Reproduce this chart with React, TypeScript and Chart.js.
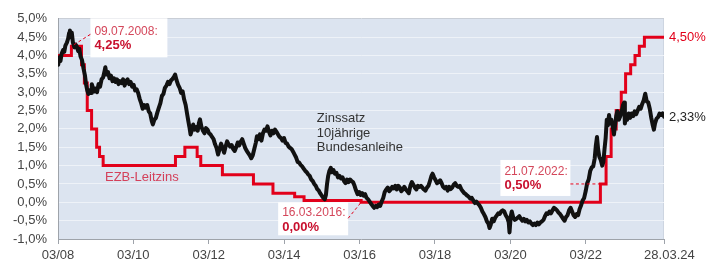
import React, { useEffect, useRef } from 'react';
import { Chart, registerables } from 'chart.js';

Chart.register(...registerables);

// 10-year Bund yield (decimal year, percent)
const bundYears = [
  2008.17, 2008.20, 2008.23, 2008.26, 2008.30, 2008.33, 2008.36, 2008.40, 2008.43, 2008.46, 2008.48, 2008.50, 2008.53, 2008.56, 2008.60, 2008.63, 2008.66, 2008.70, 2008.73, 2008.76, 2008.80, 2008.84, 2008.88, 2008.91, 2008.94, 2008.97,
  2009.01, 2009.04, 2009.06, 2009.10, 2009.13, 2009.16, 2009.20, 2009.24, 2009.28, 2009.32, 2009.36, 2009.40, 2009.42, 2009.45, 2009.49, 2009.53, 2009.57, 2009.61, 2009.65, 2009.69, 2009.73, 2009.77, 2009.81, 2009.85, 2009.89, 2009.93, 2009.97,
  2010.01, 2010.05, 2010.09, 2010.13, 2010.17, 2010.21, 2010.25, 2010.29, 2010.33, 2010.37, 2010.41, 2010.45, 2010.49, 2010.53, 2010.57, 2010.61, 2010.65, 2010.68, 2010.72, 2010.76, 2010.80, 2010.84, 2010.88, 2010.92, 2010.96,
  2011.00, 2011.04, 2011.08, 2011.12, 2011.16, 2011.20, 2011.24, 2011.27, 2011.31, 2011.35, 2011.39, 2011.43, 2011.47, 2011.51, 2011.55, 2011.59, 2011.62, 2011.65, 2011.68, 2011.71, 2011.75, 2011.79, 2011.83, 2011.87, 2011.90, 2011.93, 2011.97,
  2012.01, 2012.05, 2012.09, 2012.13, 2012.17, 2012.21, 2012.25, 2012.29, 2012.33, 2012.37, 2012.41, 2012.45, 2012.49, 2012.53, 2012.57, 2012.61, 2012.65, 2012.69, 2012.73, 2012.77, 2012.81, 2012.85, 2012.89, 2012.93, 2012.97,
  2013.01, 2013.05, 2013.09, 2013.13, 2013.17, 2013.21, 2013.25, 2013.29, 2013.33, 2013.37, 2013.41, 2013.44, 2013.48, 2013.52, 2013.56, 2013.60, 2013.64, 2013.68, 2013.72, 2013.76, 2013.80, 2013.84, 2013.88, 2013.92, 2013.96,
  2014.00, 2014.04, 2014.08, 2014.12, 2014.16, 2014.20, 2014.24, 2014.28, 2014.32, 2014.36, 2014.40, 2014.44, 2014.48, 2014.52, 2014.56, 2014.60, 2014.64, 2014.68, 2014.72, 2014.76, 2014.80, 2014.84, 2014.88, 2014.92, 2014.96,
  2015.00, 2015.04, 2015.08, 2015.12, 2015.16, 2015.20, 2015.24, 2015.27, 2015.30, 2015.33, 2015.36, 2015.40, 2015.43, 2015.47, 2015.51, 2015.55, 2015.59, 2015.63, 2015.67, 2015.71, 2015.75, 2015.79, 2015.83, 2015.87, 2015.91, 2015.95, 2015.99,
  2016.03, 2016.07, 2016.11, 2016.15, 2016.19, 2016.23, 2016.27, 2016.31, 2016.35, 2016.39, 2016.43, 2016.47, 2016.51, 2016.55, 2016.59, 2016.63, 2016.67, 2016.71, 2016.75, 2016.79, 2016.83, 2016.87, 2016.91, 2016.95, 2016.99,
  2017.03, 2017.07, 2017.11, 2017.15, 2017.19, 2017.23, 2017.27, 2017.31, 2017.35, 2017.39, 2017.43, 2017.47, 2017.51, 2017.55, 2017.59, 2017.63, 2017.67, 2017.71, 2017.75, 2017.79, 2017.83, 2017.87, 2017.91, 2017.95, 2017.99,
  2018.03, 2018.07, 2018.10, 2018.14, 2018.18, 2018.22, 2018.26, 2018.30, 2018.34, 2018.38, 2018.42, 2018.46, 2018.50, 2018.54, 2018.58, 2018.62, 2018.66, 2018.70, 2018.74, 2018.78, 2018.82, 2018.86, 2018.90, 2018.94, 2018.98,
  2019.02, 2019.06, 2019.10, 2019.14, 2019.18, 2019.22, 2019.26, 2019.30, 2019.34, 2019.38, 2019.42, 2019.46, 2019.50, 2019.54, 2019.58, 2019.61, 2019.64, 2019.68, 2019.72, 2019.76, 2019.80, 2019.84, 2019.88, 2019.92, 2019.96,
  2020.00, 2020.04, 2020.08, 2020.12, 2020.14, 2020.17, 2020.20, 2020.24, 2020.28, 2020.32, 2020.36, 2020.40, 2020.44, 2020.48, 2020.52, 2020.56, 2020.60, 2020.64, 2020.68, 2020.72, 2020.76, 2020.80, 2020.84, 2020.88, 2020.92, 2020.96,
  2021.00, 2021.04, 2021.08, 2021.12, 2021.16, 2021.20, 2021.24, 2021.28, 2021.32, 2021.36, 2021.40, 2021.44, 2021.48, 2021.52, 2021.56, 2021.60, 2021.64, 2021.68, 2021.72, 2021.76, 2021.80, 2021.84, 2021.88, 2021.92, 2021.96,
  2022.00, 2022.04, 2022.08, 2022.12, 2022.16, 2022.20, 2022.24, 2022.28, 2022.32, 2022.36, 2022.40, 2022.43, 2022.46, 2022.49, 2022.52, 2022.56, 2022.60, 2022.63, 2022.66, 2022.69, 2022.72, 2022.75, 2022.78, 2022.81, 2022.84, 2022.88, 2022.91, 2022.94, 2022.97,
  2023.00, 2023.04, 2023.08, 2023.12, 2023.15, 2023.18, 2023.20, 2023.23, 2023.26, 2023.30, 2023.34, 2023.38, 2023.42, 2023.46, 2023.50, 2023.54, 2023.58, 2023.62, 2023.66, 2023.70, 2023.74, 2023.78, 2023.82, 2023.86, 2023.90, 2023.94, 2023.97,
  2024.00, 2024.04, 2024.08, 2024.12, 2024.16, 2024.20, 2024.24,
];

const bundYields = [
  3.75, 3.95, 3.85, 4.05, 4.15, 4.10, 4.27, 4.35, 4.45, 4.62, 4.68, 4.50, 4.62, 4.35, 4.22, 4.30, 4.25, 4.12, 4.18, 3.98, 3.88, 3.65, 3.45, 3.20, 3.05, 2.95,
  3.05, 2.98, 3.22, 3.10, 3.02, 3.10, 3.00, 3.22, 3.15, 3.35, 3.40, 3.58, 3.68, 3.48, 3.55, 3.38, 3.45, 3.30, 3.38, 3.28, 3.35, 3.22, 3.30, 3.25, 3.35, 3.18, 3.30,
  3.35, 3.22, 3.28, 3.15, 3.20, 3.05, 3.08, 2.98, 2.82, 2.70, 2.55, 2.65, 2.58, 2.65, 2.48, 2.42, 2.22, 2.12, 2.25, 2.30, 2.45, 2.58, 2.70, 2.90, 2.95,
  3.12, 3.18, 3.28, 3.22, 3.32, 3.36, 3.42, 3.48, 3.32, 3.20, 3.12, 2.98, 3.02, 2.80, 2.65, 2.40, 2.22, 2.05, 1.85, 1.95, 2.12, 1.98, 2.05, 1.95, 2.15, 2.26, 2.05,
  1.95, 1.88, 2.02, 1.98, 1.88, 1.85, 1.78, 1.72, 1.58, 1.48, 1.30, 1.45, 1.60, 1.48, 1.35, 1.52, 1.66, 1.58, 1.52, 1.56, 1.45, 1.40, 1.50, 1.63, 1.55,
  1.65, 1.72, 1.60, 1.48, 1.40, 1.34, 1.28, 1.20, 1.28, 1.45, 1.62, 1.80, 1.72, 1.85, 1.68, 1.88, 1.98, 1.95, 2.07, 1.92, 1.82, 1.95, 1.88, 1.98, 1.92,
  1.85, 1.78, 1.75, 1.68, 1.75, 1.62, 1.60, 1.52, 1.48, 1.45, 1.38, 1.30, 1.22, 1.10, 1.08, 1.02, 0.98, 0.92, 0.86, 0.82, 0.76, 0.72, 0.62, 0.58, 0.50,
  0.45, 0.36, 0.32, 0.24, 0.18, 0.12, 0.08, 0.20, 0.50, 0.72, 0.85, 0.94, 0.82, 0.88, 0.78, 0.80, 0.68, 0.72, 0.65, 0.68, 0.58, 0.52, 0.62, 0.55, 0.62, 0.58, 0.55,
  0.45, 0.32, 0.22, 0.28, 0.20, 0.25, 0.18, 0.22, 0.12, 0.08, 0.02, -0.04, -0.10, -0.15, -0.10, -0.13, -0.06, -0.10, 0.02, 0.12, 0.28, 0.35, 0.40, 0.30, 0.35,
  0.42, 0.38, 0.45, 0.35, 0.45, 0.40, 0.30, 0.35, 0.42, 0.35, 0.30, 0.25, 0.45, 0.55, 0.48, 0.40, 0.35, 0.45, 0.42, 0.45, 0.40, 0.35, 0.32, 0.40, 0.45,
  0.58, 0.72, 0.78, 0.68, 0.60, 0.52, 0.55, 0.60, 0.52, 0.42, 0.38, 0.42, 0.32, 0.42, 0.36, 0.40, 0.48, 0.52, 0.45, 0.42, 0.45, 0.36, 0.30, 0.25, 0.22,
  0.18, 0.15, 0.10, 0.12, 0.05, -0.02, 0.02, -0.03, -0.08, -0.15, -0.25, -0.32, -0.40, -0.52, -0.58, -0.70, -0.62, -0.45, -0.52, -0.42, -0.36, -0.30, -0.32, -0.25, -0.22,
  -0.25, -0.35, -0.42, -0.55, -0.82, -0.40, -0.25, -0.42, -0.48, -0.45, -0.42, -0.38, -0.45, -0.50, -0.45, -0.52, -0.48, -0.55, -0.52, -0.58, -0.62, -0.58, -0.62, -0.55, -0.60, -0.55,
  -0.52, -0.48, -0.38, -0.30, -0.32, -0.25, -0.30, -0.22, -0.15, -0.18, -0.22, -0.28, -0.32, -0.38, -0.45, -0.50, -0.40, -0.35, -0.22, -0.15, -0.25, -0.35, -0.40, -0.32, -0.35,
  -0.18, -0.08, 0.05, 0.12, 0.30, 0.52, 0.62, 0.85, 0.95, 0.98, 1.20, 1.55, 1.78, 1.45, 1.25, 1.15, 1.00, 1.10, 1.45, 1.75, 2.25, 2.10, 2.38, 2.15, 2.25, 2.05, 1.85, 2.10, 2.35,
  2.48, 2.25, 2.35, 2.50, 2.65, 2.72, 2.15, 2.35, 2.25, 2.42, 2.30, 2.42, 2.35, 2.48, 2.40, 2.50, 2.60, 2.55, 2.68, 2.78, 2.96, 2.75, 2.72, 2.55, 2.30, 2.10, 1.98,
  2.15, 2.28, 2.32, 2.42, 2.38, 2.42, 2.33,
];

// ECB main refinancing rate (change dates)
const ecbDates = [
  '01.03.2008', '09.07.2008', '15.10.2008', '12.11.2008', '10.12.2008', '21.01.2009', '11.03.2009', '08.04.2009', '13.05.2009',
  '13.04.2011', '13.07.2011', '09.11.2011', '14.12.2011', '11.07.2012', '08.05.2013', '13.11.2013', '11.06.2014', '10.09.2014',
  '16.03.2016', '21.07.2022', '14.09.2022', '02.11.2022', '21.12.2022', '08.02.2023', '22.03.2023', '10.05.2023', '21.06.2023',
  '02.08.2023', '20.09.2023', '28.03.2024',
];
const ecbRates = [
  4.0, 4.25, 3.75, 3.25, 2.5, 2.0, 1.5, 1.25, 1.0,
  1.25, 1.5, 1.25, 1.0, 0.75, 0.5, 0.25, 0.15, 0.05,
  0.0, 0.5, 1.25, 2.0, 2.5, 3.0, 3.5, 3.75, 4.0,
  4.25, 4.5, 4.5,
];

const xStart = '01.03.2008';
const xEnd = '28.03.2024';
const xTickDates = ['01.03.2008', '01.03.2010', '01.03.2012', '01.03.2014', '01.03.2016', '01.03.2018', '01.03.2020', '01.03.2022', '28.03.2024'];
const xTickLabels = ['03/08', '03/10', '03/12', '03/14', '03/16', '03/18', '03/20', '03/22', '   28.03.24'];
const yTicks = [-1, -0.5, 0, 0.5, 1, 1.5, 2, 2.5, 3, 3.5, 4, 4.5, 5];

const calloutDates = ['09.07.2008', '16.03.2016', '21.07.2022'];
const calloutValues = [4.25, 0.0, 0.5];
const calloutDateLabels = ['09.07.2008:', '16.03.2016:', '21.07.2022:'];
const calloutValueLabels = ['4,25%', '0,00%', '0,50%'];

const ecbLabel = 'EZB-Leitzins';
const bundLabel = ['Zinssatz', '10jährige', 'Bundesanleihe'];
const ecbEndLabel = '4,50%';
const bundEndLabel = '2,33%';

function toYear(d: string): number {
  const [dd, mm, yy] = d.split('.').map(Number);
  const start = Date.UTC(yy, 0, 1);
  const end = Date.UTC(yy + 1, 0, 1);
  return yy + (Date.UTC(yy, mm - 1, dd) - start) / (end - start);
}

const FONT = '"Liberation Sans", Arial, sans-serif';

export default function App() {
  const ref = useRef<HTMLCanvasElement | null>(null);

  useEffect(() => {
    if (!ref.current) return;

    const calloutLayout = [
      { dx: 19, dy: -28, w: 77, h: 39, l1: 13, l2: 27, side: 'left', cy: 16 },
      { dx: -83, dy: 0, w: 70, h: 33, l1: 10, l2: 25, side: 'right', cy: 16 },
      { dx: -100, dy: -24, w: 70, h: 36, l1: 12, l2: 25, side: 'right', cy: 24 },
    ];

    const decor = {
      id: 'decor',
      beforeDraw(chart: any) {
        const { ctx, chartArea: a } = chart;
        ctx.save();
        ctx.fillStyle = '#dce4f0';
        ctx.fillRect(a.left, a.top, a.right - a.left, a.bottom - a.top);
        ctx.strokeStyle = '#cdd5e1';
        ctx.lineWidth = 1;
        ctx.beginPath();
        ctx.moveTo(a.right - 0.5, a.top);
        ctx.lineTo(a.right - 0.5, a.bottom);
        ctx.stroke();
        ctx.restore();
      },
      afterDatasetsDraw(chart: any) {
        const { ctx, chartArea: a } = chart;
        const xs = chart.scales.x;
        const ys = chart.scales.y;
        ctx.save();
        ctx.textBaseline = 'middle';

        calloutDates.forEach((d, i) => {
          const L = calloutLayout[i];
          const px = xs.getPixelForValue(toYear(d));
          const py = ys.getPixelForValue(calloutValues[i]);
          const bx = px + L.dx;
          const by = py + L.dy;
          ctx.fillStyle = '#ffffff';
          ctx.fillRect(bx, by, L.w, L.h);
          ctx.strokeStyle = '#e2001a';
          ctx.lineWidth = 1;
          ctx.setLineDash([3, 2.5]);
          ctx.beginPath();
          if (L.side === 'left') {
            ctx.moveTo(bx, by + L.cy);
          } else {
            ctx.moveTo(bx + L.w, by + L.cy);
          }
          ctx.lineTo(px, py);
          ctx.stroke();
          ctx.setLineDash([]);
          ctx.textAlign = 'left';
          ctx.fillStyle = '#d4475b';
          ctx.font = `12px ${FONT}`;
          ctx.fillText(calloutDateLabels[i], bx + 4, by + L.l1);
          ctx.fillStyle = '#c8102e';
          ctx.font = `bold 13px ${FONT}`;
          ctx.fillText(calloutValueLabels[i], bx + 4, by + L.l2);
        });

        ctx.textAlign = 'left';
        ctx.font = `13px ${FONT}`;
        ctx.fillStyle = '#d4405a';
        ctx.fillText(ecbLabel, xs.getPixelForValue(2009.41), ys.getPixelForValue(0.69));

        ctx.fillStyle = '#333333';
        const bx0 = xs.getPixelForValue(2015.03);
        const by0 = ys.getPixelForValue(2.28);
        bundLabel.forEach((t, i) => ctx.fillText(t, bx0, by0 + i * 14.5));

        const lastE = ecbRates[ecbRates.length - 1];
        const lastB = bundYields[bundYields.length - 1];
        ctx.font = `13px ${FONT}`;
        ctx.fillStyle = '#e2001a';
        ctx.fillText(ecbEndLabel, a.right + 5, ys.getPixelForValue(lastE));
        ctx.fillStyle = '#222222';
        ctx.fillText(bundEndLabel, a.right + 5, ys.getPixelForValue(lastB) + 1);
        ctx.restore();
      },
    };

    const chart = new Chart(ref.current, {
      type: 'line',
      data: {
        datasets: [
          {
            label: 'Bund',
            data: bundYears.map((x, i) => ({ x, y: bundYields[i] })),
            borderColor: '#111111',
            borderWidth: 4,
            borderJoinStyle: 'round',
            borderCapStyle: 'round',
            pointRadius: 0,
            tension: 0,
          },
          {
            label: 'EZB',
            data: ecbDates.map((d, i) => ({ x: toYear(d), y: ecbRates[i] })),
            borderColor: '#e2001a',
            borderWidth: 3,
            stepped: true,
            pointRadius: 0,
            tension: 0,
          },
        ],
      },
      options: {
        animation: false,
        responsive: false,
        events: [],
        layout: { padding: { left: 0, top: 16, right: 54, bottom: 0 } },
        plugins: { legend: { display: false }, tooltip: { enabled: false } },
        scales: {
          x: {
            type: 'linear',
            min: toYear(xStart),
            max: toYear(xEnd),
            afterBuildTicks: (s: any) => {
              s.ticks = xTickDates.map((d) => ({ value: toYear(d) }));
            },
            afterFit: (s: any) => {
              s.height = 21;
            },
            grid: { drawOnChartArea: false, drawTicks: true, tickLength: 5, color: '#9ea3aa' },
            border: { display: true, color: '#9ea3aa', width: 1 },
            ticks: {
              autoSkip: false,
              maxRotation: 0,
              padding: 4,
              color: '#444444',
              font: { family: FONT, size: 13 },
              callback: (_v: any, i: number) => xTickLabels[i],
            },
          },
          y: {
            type: 'linear',
            min: -1,
            max: 5,
            afterBuildTicks: (s: any) => {
              s.ticks = yTicks.map((v) => ({ value: v }));
            },
            afterFit: (s: any) => {
              s.width = 58;
            },
            grid: {
              drawTicks: false,
              color: (c: any) => (c.tick && c.tick.value === 5 ? '#c9ced6' : '#eef2f8'),
              lineWidth: 1,
            },
            border: { display: true, color: '#9ea3aa', width: 1 },
            ticks: {
              autoSkip: false,
              padding: 11,
              color: '#444444',
              font: { family: FONT, size: 13 },
              callback: (v: any) => Number(v).toFixed(1).replace('.', ',') + '%',
            },
          },
        },
      },
      plugins: [decor],
    } as any);

    return () => chart.destroy();
  }, []);

  return (
    <div style={{ position: 'fixed', left: 0, top: 0, width: 718, height: 260, background: '#ffffff' }}>
      <canvas ref={ref} width={718} height={260} style={{ display: 'block', width: 718, height: 260 }} />
    </div>
  );
}
